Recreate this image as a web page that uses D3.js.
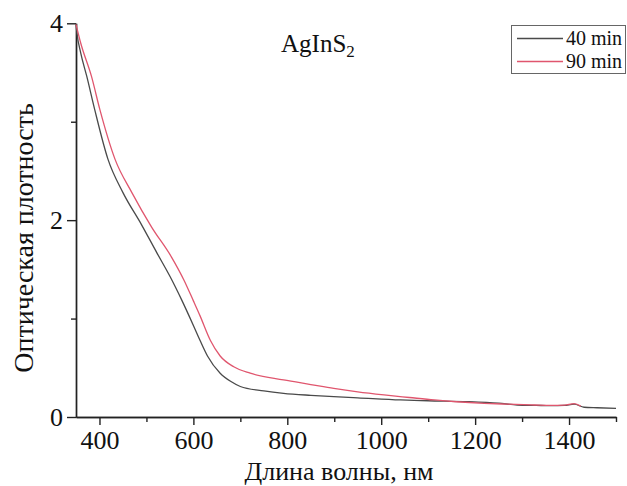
<!DOCTYPE html>
<html><head><meta charset="utf-8">
<script src="https://cdn.jsdelivr.net/npm/d3@7"></script>
<style>body{margin:0;background:#fff}svg{display:block}svg text{font-family:"Liberation Serif","Times New Roman",serif;}</style>
</head><body>
<svg id="c" width="627" height="486"></svg>
<script>
const wavelength40 = [350, 352, 360, 373, 390, 418, 450, 490, 522, 550, 575, 600, 614, 630, 657, 680, 700, 750, 792, 850, 899, 950, 1041, 1100, 1184, 1250, 1290, 1330, 1361, 1390, 1411, 1432, 1460, 1500];
const abs40 = [3.99, 3.9, 3.7, 3.46, 3.12, 2.62, 2.28, 1.95, 1.67, 1.43, 1.19, 0.93, 0.78, 0.62, 0.445, 0.36, 0.31, 0.265, 0.24, 0.22, 0.207, 0.195, 0.173, 0.165, 0.156, 0.14, 0.122, 0.118, 0.115, 0.118, 0.13, 0.099, 0.094, 0.088];
const wavelength90 = [350, 360, 383, 401, 433, 469, 511, 554, 580, 600, 614, 636, 657, 686, 721, 792, 850, 899, 950, 1006, 1060, 1113, 1160, 1219, 1270, 1326, 1361, 1390, 1411, 1425];
const abs90 = [3.99, 3.8, 3.46, 3.12, 2.62, 2.28, 1.93, 1.62, 1.39, 1.18, 1.03, 0.78, 0.62, 0.51, 0.445, 0.377, 0.33, 0.29, 0.255, 0.224, 0.198, 0.173, 0.155, 0.139, 0.13, 0.122, 0.118, 0.12, 0.135, 0.11];
const seriesNames = ["40 min", "90 min"];
const seriesColors = ["#4a4a4a", "#e0566e"];
const xMajorTicks = [400, 600, 800, 1000, 1200, 1400];
const xMinorTicks = [500, 700, 900, 1100, 1300, 1500];
const yMajorTicks = [0, 2, 4];
const yMinorTicks = [1, 3];
const title = "AgInS";
const titleSub = "2";
const xLabel = "Длина волны, нм";
const yLabel = "Оптическая плотность";

const svg = d3.select("#c");
const x = d3.scaleLinear().domain([350, 1500]).range([76, 616]);
const y = d3.scaleLinear().domain([0, 4]).range([417, 23.3]);

const xMaj = svg.append("g").attr("transform", `translate(0,${y(0)})`)
  .call(d3.axisBottom(x).tickValues(xMajorTicks).tickFormat(d3.format("d")).tickSize(8).tickPadding(6).tickSizeOuter(0));
const xMin = svg.append("g").attr("transform", `translate(0,${y(0)})`)
  .call(d3.axisBottom(x).tickValues(xMinorTicks).tickSize(5).tickFormat("").tickSizeOuter(0));
const yMaj = svg.append("g").attr("transform", `translate(${x(350)},0)`)
  .call(d3.axisLeft(y).tickValues(yMajorTicks).tickFormat(d3.format("d")).tickSize(9).tickPadding(4).tickSizeOuter(0));
const yMin = svg.append("g").attr("transform", `translate(${x(350)},0)`)
  .call(d3.axisLeft(y).tickValues(yMinorTicks).tickSize(5).tickFormat("").tickSizeOuter(0));
[xMaj, xMin, yMaj, yMin].forEach(g => {
  g.attr("font-family", null);
  g.selectAll("path").attr("stroke", "#222").attr("stroke-width", 1.4);
  g.selectAll("line").attr("stroke", "#222").attr("stroke-width", 1.4);
  g.selectAll("text").attr("font-size", 26).attr("fill", "#111");
});

const line = d3.line().x(d => x(d[0])).y(d => y(d[1])).curve(d3.curveMonotoneX);
const data40 = wavelength40.map((w, i) => [w, abs40[i]]);
const data90 = wavelength90.map((w, i) => [w, abs90[i]]);
svg.append("path").datum(data40).attr("d", line).attr("fill", "none")
  .attr("stroke", seriesColors[0]).attr("stroke-width", 1.3);
svg.append("path").datum(data90).attr("d", line).attr("fill", "none")
  .attr("stroke", seriesColors[1]).attr("stroke-width", 1.3);

const t = svg.append("text").attr("x", 281).attr("y", 52).attr("font-size", 25).attr("fill", "#111");
t.append("tspan").text(title);
t.append("tspan").attr("font-size", 17).attr("dy", 5).text(titleSub);

svg.append("text").attr("x", 339).attr("y", 480).attr("text-anchor", "middle")
  .attr("font-size", 26).attr("fill", "#111").text(xLabel);
svg.append("text").attr("transform", "translate(33,238) rotate(-90)").attr("text-anchor", "middle")
  .attr("font-size", 28).attr("fill", "#111").text(yLabel);

svg.append("rect").attr("x", 511.5).attr("y", 25.5).attr("width", 114).attr("height", 48)
  .attr("fill", "#fff").attr("stroke", "#666").attr("stroke-width", 1);
const legY = [38.5, 61.5];
seriesNames.forEach((n, i) => {
  svg.append("line").attr("x1", 517).attr("x2", 563).attr("y1", legY[i]).attr("y2", legY[i])
    .attr("stroke", seriesColors[i]).attr("stroke-width", 1.3);
  svg.append("text").attr("x", 566).attr("y", legY[i] + 6)
    .attr("font-size", 20).attr("fill", "#111").text(n);
});
</script>
</body></html>
